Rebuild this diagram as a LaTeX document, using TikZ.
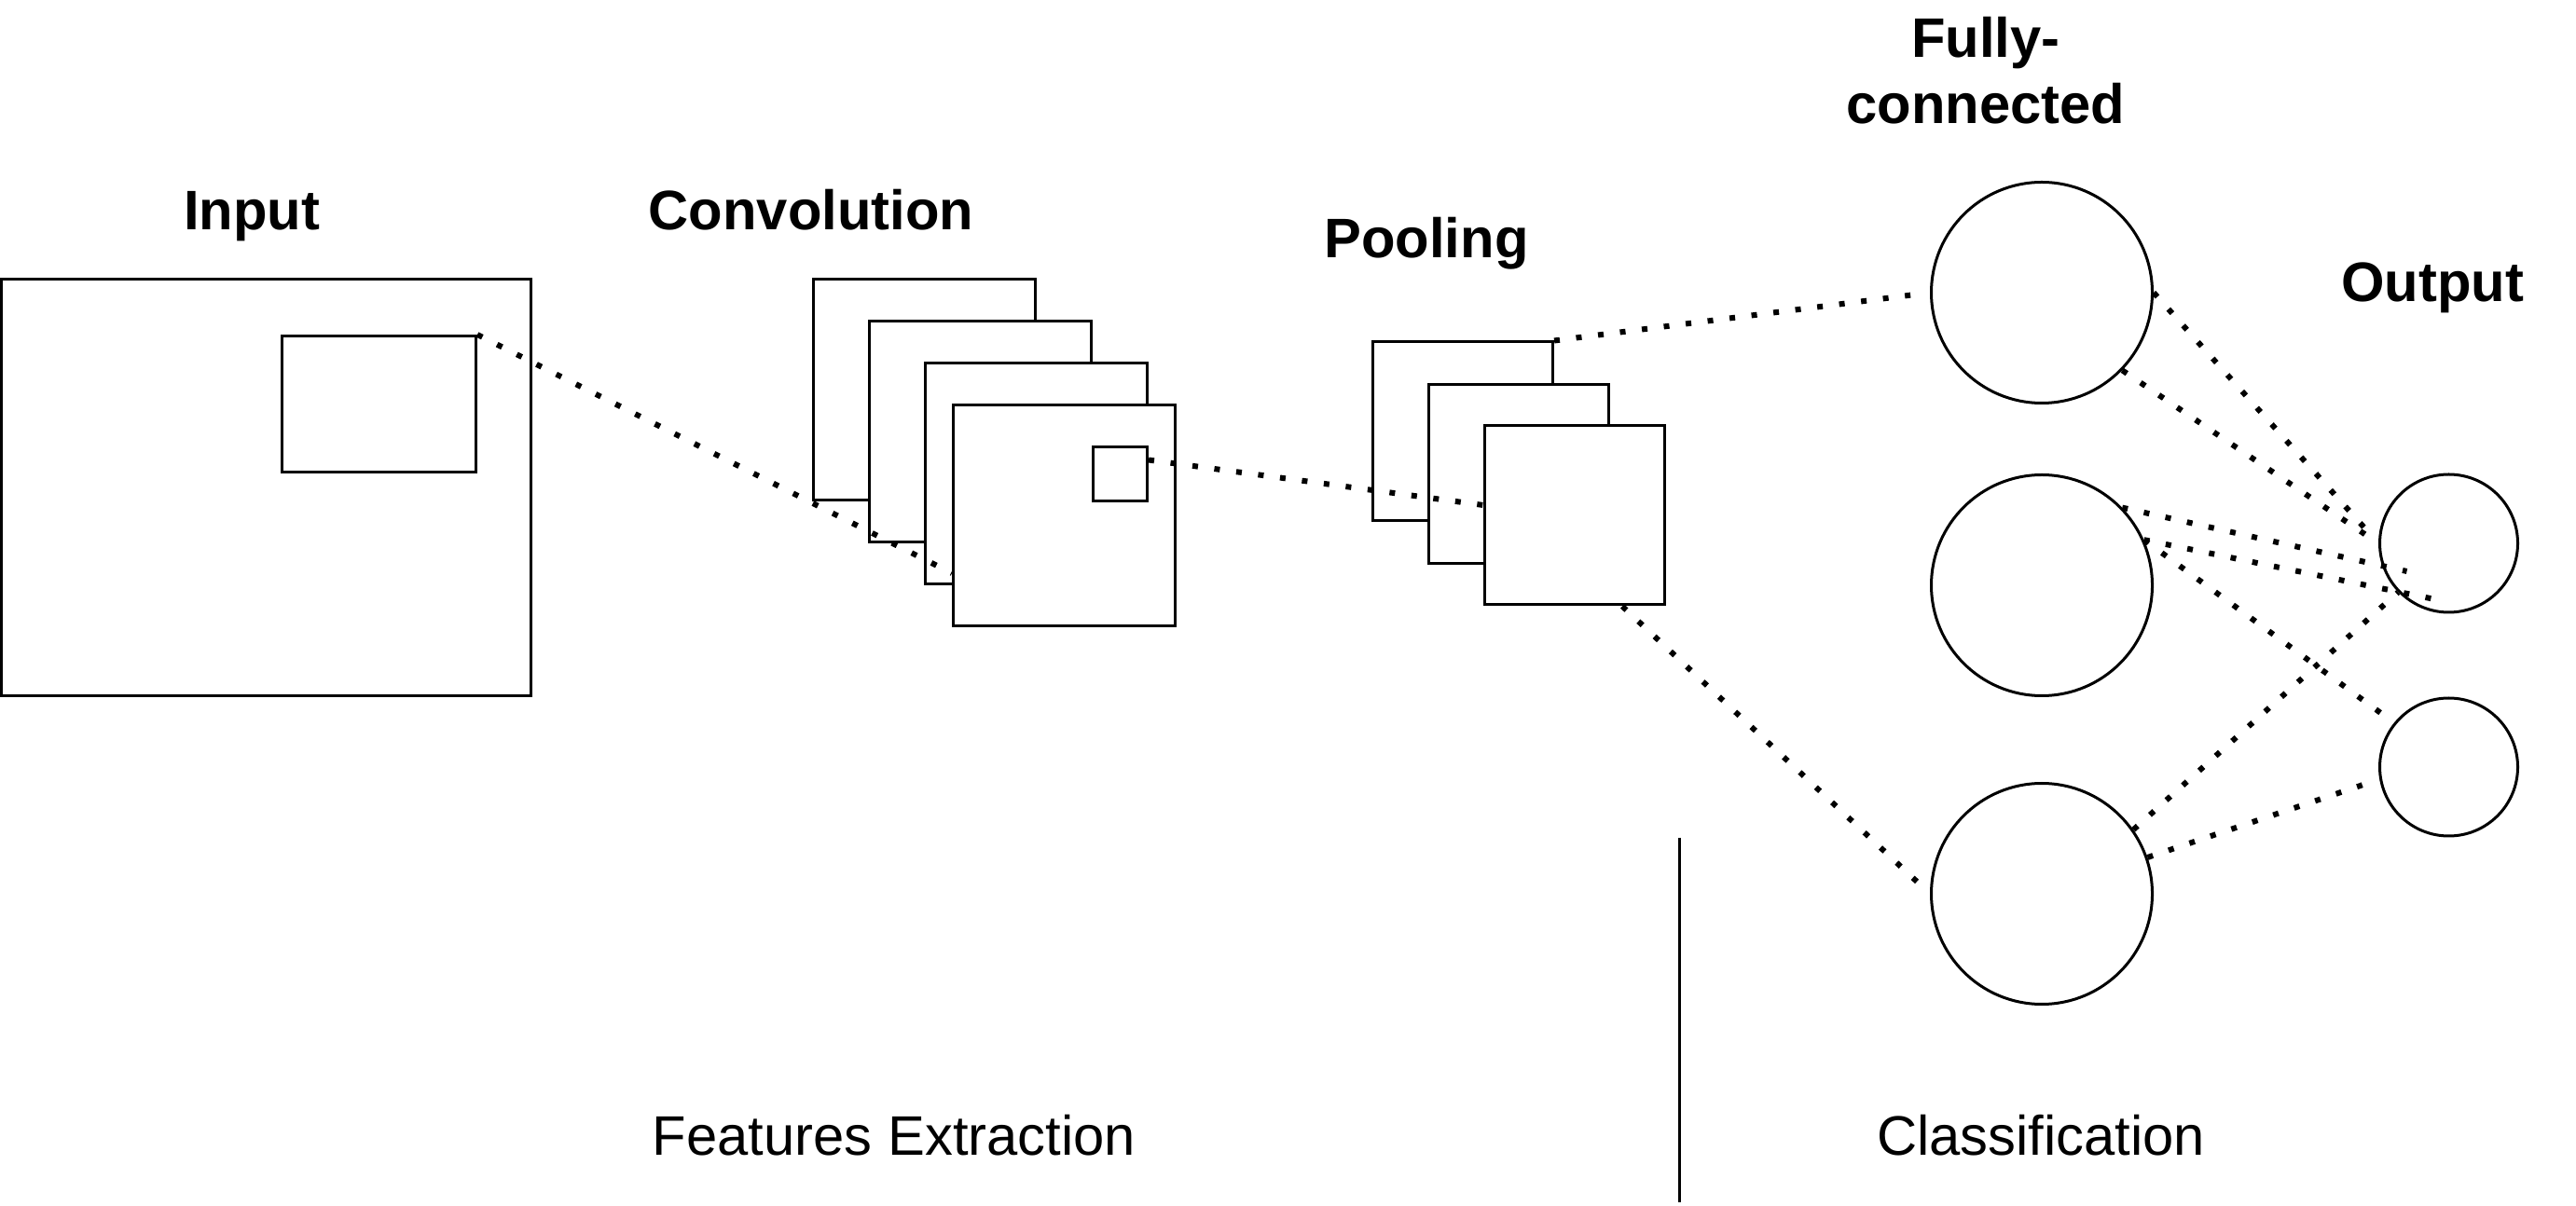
\documentclass[tikz,border=0pt]{standalone}
\usepackage{fontspec}
\setmainfont{Liberation Sans}

\begin{document}
\begin{tikzpicture}[
	map/.style={draw, fill=white, line width=0.03cm, inner sep=0pt},
	neuron/.style={draw, circle, fill=white, line width=0.03cm, inner sep=0pt},
	link/.style={line width=0.06cm, dash pattern=on 0.06cm off 0.177cm},
	title/.style={font=\fontsize{17}{20.2}\selectfont\bfseries, anchor=base, inner sep=0pt, align=center},
	caption/.style={font=\fontsize{17}{20}\selectfont, anchor=base, inner sep=0pt}
	]
	\useasboundingbox (0,0) rectangle (27.63,12.93);

	%input image and its window
	\node[map, minimum width=5.68cm, minimum height=4.47cm] (input) at (2.855,7.70) {};
	\node[map, minimum width=2.08cm, minimum height=1.46cm] (window) at (4.065,8.595) {};

	%convolution maps
	\node[map, minimum width=2.38cm, minimum height=2.37cm] (conv1) at (9.915,8.75) {};
	\node[map, minimum width=2.38cm, minimum height=2.37cm] (conv2) at (10.515,8.30) {};
	\node[map, minimum width=2.38cm, minimum height=2.37cm] (conv3) at (11.11,7.85) {};
	\node[map, minimum width=2.38cm, minimum height=2.37cm] (conv4) at (11.415,7.40) {};
	\node[map, minimum width=0.58cm, minimum height=0.58cm] (kernel) at (12.015,7.845) {};

	%pooling maps
	\node[map, minimum width=1.93cm, minimum height=1.92cm] (pool1) at (15.69,8.30) {};
	\node[map, minimum width=1.93cm, minimum height=1.92cm] (pool2) at (16.29,7.845) {};
	\node[map, minimum width=1.93cm, minimum height=1.92cm] (pool3) at (16.89,7.40) {};

	%fully-connected and output neurons
	\node[neuron, minimum size=2.37cm] (fc1) at (21.90,9.79) {};
	\node[neuron, minimum size=2.37cm] (fc2) at (21.90,6.65) {};
	\node[neuron, minimum size=2.37cm] (fc3) at (21.90,3.34) {};
	\node[neuron, minimum size=1.48cm] (out1) at (26.265,7.10) {};
	\node[neuron, minimum size=1.48cm] (out2) at (26.265,4.70) {};

	%dotted links
	\draw[link] (window.north east) -- ([yshift=-0.62cm]conv4.west);
	\draw[link] ([yshift=0.15cm]kernel.east) -- ([yshift=0.11cm]pool3.west);
	\draw[link, shorten >=0.17cm] (pool1.north east) -- (fc1.west);
	\draw[link, shorten >=0.17cm] ([xshift=0.51cm]pool3.south) -- (fc3.west);
	\draw[link, shorten >=0.17cm] (fc1.east) -- (out1.west);
	\draw[link, shorten >=0.12cm] (fc1.316) -- (out1.west);
	\draw[link] (fc2.44) -- ([shift={(-0.45,-0.30)}]out1.center);
	\draw[link] (fc2.24) -- ([shift={(-0.15,-0.60)}]out1.center);
	\draw[link, shorten >=0.15cm] (fc2.24) -- (out2.141);
	\draw[link] (fc3.35) -- (out1.224);
	\draw[link, shorten >=0.16cm] (fc3.19) -- (out2.190);

	%divider
	\draw[line width=0.03cm] (18.01,3.94) -- (18.01,0.03);

	%labels
	\node[title] (tinput) at (2.70,10.46) {Input};
	\node[title] (tconv) at (8.70,10.46) {Convolution};
	\node[title] (tpool) at (15.30,10.16) {Pooling};
	\node[title] (tfc) at (21.30,11.60) {Fully-\\connected};
	\node[title] (tout) at (26.09,9.69) {Output};
	\node[caption] (tfeat) at (9.59,0.54) {Features Extraction};
	\node[caption] (tclass) at (21.89,0.54) {Classification};

\end{tikzpicture}
\end{document}
